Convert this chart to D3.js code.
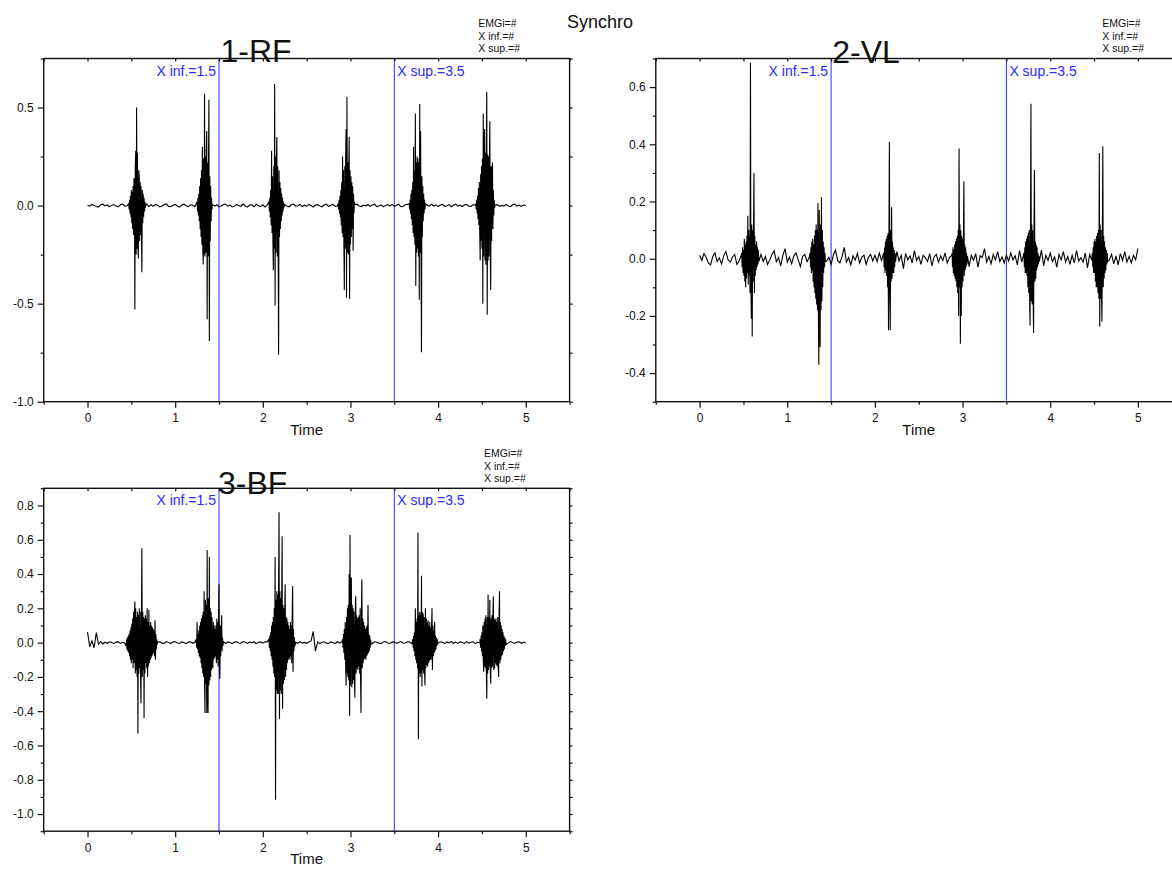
<!DOCTYPE html>
<html><head><meta charset="utf-8">
<script src="https://cdn.jsdelivr.net/npm/d3@7"></script>
<style>
html,body{margin:0;padding:0;background:#fff;}
svg{display:block;font-family:"Liberation Sans",Arial,Helvetica,sans-serif;}
</style></head><body>
<svg id="chart" width="1172" height="872"></svg>
<script>
// ---------------- DATA ----------------
const BASE_STEP = 0.025;   // s, quiet-signal sampling
const BURST_STEP = 0.005;  // s, burst sampling
const xMajorTicks = [0, 1, 2, 3, 4, 5];
const xMinorTicks = [-0.5, 0.5, 1.5, 2.5, 3.5, 4.5, 5.5];
const xInf = 1.5, xSup = 3.5;
const infoLines = ["EMGi=#", "X inf.=#", "X sup.=#"];

// 1-RF
const rfBase = [
 0.002,-0.003,0.006,0.001,-0.005,-0.008,0.004,0.007,-0.002,0.003,
 -0.006,0.001,0.005,-0.002,-0.007,0.004,0.008,-0.003,-0.001,0.005,
 0.000,-0.004,0.006,-0.003,0.004,-0.006,0.003,0.008,-0.005,0.004,
 -0.004,0.006,0.002,-0.007,-0.002,0.005,0.009,-0.004,-0.006,0.002,
 0.006,-0.002,-0.008,0.003,0.007,-0.001,-0.005,0.004,0.002,-0.006,
 0.003,0.007,-0.004,-0.002,0.005,-0.007,0.001,0.006,-0.003,0.004,
 -0.006,-0.002,0.005,0.008,-0.003,0.002,-0.007,-0.004,0.006,0.001,
 -0.004,0.009,-0.002,-0.008,0.004,0.003,-0.006,0.007,-0.001,-0.005,
 0.004,-0.007,0.002,0.006,-0.003,-0.005,0.007,0.001,-0.006,0.003,
 0.005,-0.002,-0.006,0.004,0.008,-0.003,-0.001,0.006,-0.005,0.002,
 -0.004,0.006,0.001,-0.007,0.003,0.005,-0.002,-0.006,0.004,0.007,
 -0.005,0.002,0.006,-0.004,-0.002,0.005,-0.007,0.003,0.008,-0.003,
 0.001,-0.006,0.004,0.007,-0.002,-0.005,0.003,-0.001,0.006,-0.004,
 0.003,0.007,-0.005,-0.002,0.004,-0.006,0.001,0.005,-0.003,0.006,
 -0.004,0.002,0.007,-0.005,-0.003,0.004,0.006,-0.002,-0.007,0.003,
 0.005,-0.004,0.001,0.006,-0.006,0.002,-0.003,0.007,-0.002,0.004,
 -0.005,0.003,0.006,-0.004,-0.001,0.005,-0.006,0.002,0.007,-0.003,
 0.002,-0.005,0.004,0.006,-0.003,-0.004,0.005,0.001,-0.006,0.003,
 0.006,-0.002,-0.005,0.004,0.002,-0.007,0.003,0.005,-0.004,0.001,
 -0.003,0.006,-0.002,-0.005,0.004,0.007,-0.003,0.002,-0.004,0.003,
 0.000];
const rfBurstStart = [0.47, 1.25, 2.07, 2.86, 3.67, 4.43];
const rfBurst1 = [0.01,-0.02,0.03,-0.04,0.05,-0.06,0.08,-0.09,0.07,-0.12,0.1,-0.15,0.14,0.12,-0.53,0.2,0.28,-0.25,0.5,-0.22,0.27,-0.2,-0.27,0.18,0.15,-0.18,0.12,-0.15,0.1,-0.12,-0.34,0.08,-0.09,0.06,-0.06,0.04,-0.03,0.02,-0.01,0.005];
const rfBurst2 = [0.02,-0.03,0.04,-0.05,0.06,-0.08,0.1,-0.12,0.14,-0.16,0.18,-0.2,0.3,-0.22,-0.3,0.24,-0.25,0.57,-0.26,0.25,-0.24,0.28,0.38,-0.58,0.22,-0.26,0.2,0.54,-0.69,0.15,-0.18,0.1,-0.08,0.04,-0.02];
const rfBurst3 = [0.02,-0.03,0.04,-0.06,0.08,-0.1,0.28,-0.14,0.15,-0.18,-0.33,0.2,-0.22,0.62,-0.51,0.25,-0.24,0.22,0.35,-0.26,0.2,-0.22,-0.76,0.18,-0.16,0.12,-0.12,0.09,-0.08,0.06,-0.05,0.04,-0.03,0.02,-0.01];
const rfBurst4 = [0.01,-0.02,0.03,-0.04,0.05,-0.06,0.08,-0.1,0.12,-0.14,0.25,-0.16,0.18,-0.2,-0.43,0.2,-0.22,0.24,0.39,-0.47,0.555,-0.24,0.22,-0.25,0.2,0.35,-0.475,0.18,-0.2,0.15,-0.16,0.12,-0.12,0.1,-0.23,0.06,-0.04,0.02];
const rfBurst5 = [0.01,-0.02,0.03,-0.04,0.06,-0.07,0.08,-0.1,0.12,-0.14,0.3,-0.16,0.18,-0.2,0.47,-0.41,0.22,-0.24,0.25,-0.22,0.24,-0.26,0.22,-0.48,0.518,-0.24,0.38,-0.2,-0.748,0.15,-0.16,0.1,-0.08,0.06,-0.04,0.03,-0.02,0.01];
const rfBurst6 = [0.01,-0.02,0.03,-0.04,0.05,-0.07,0.09,-0.1,0.12,-0.14,-0.28,0.16,-0.18,0.2,-0.22,0.24,-0.5,0.47,-0.26,0.25,0.39,-0.28,0.27,-0.3,0.28,0.58,-0.557,0.26,-0.28,0.25,-0.26,0.22,0.43,-0.25,-0.43,0.2,-0.18,0.16,0.22,-0.12,0.08,-0.05,0.03,-0.01];

// 2-VL
const vlBase = [
 0.012,-0.006,0.018,0.004,-0.015,-0.022,0.008,0.020,-0.010,0.003,
 -0.018,0.010,0.025,-0.004,-0.012,0.006,0.015,-0.020,-0.008,0.012,
 0.005,-0.015,0.010,0.018,-0.006,-0.012,0.008,-0.004,0.015,-0.010,
 0.008,-0.020,-0.005,0.015,0.028,-0.010,0.004,-0.025,0.012,0.035,
 -0.012,0.006,-0.018,0.010,0.020,-0.004,-0.028,0.008,0.015,-0.010,
 0.004,-0.012,0.018,0.006,-0.015,0.010,-0.006,0.022,-0.008,0.005,
 -0.020,0.012,0.030,-0.006,-0.015,0.008,0.040,-0.012,0.004,-0.022,
 0.010,-0.005,0.018,-0.015,0.006,0.012,-0.020,0.004,0.015,-0.008,
 0.012,-0.010,0.020,-0.006,0.008,-0.018,0.004,0.015,-0.012,0.010,
 0.025,-0.008,0.012,-0.035,0.018,-0.004,0.010,-0.015,0.028,-0.006,
 0.008,-0.020,0.012,0.004,-0.010,0.018,-0.025,0.006,0.015,-0.012,
 0.010,-0.006,0.020,-0.015,0.004,0.012,-0.018,0.008,-0.004,0.015,
 -0.010,0.022,0.006,-0.028,0.012,-0.006,0.018,-0.030,0.010,0.004,
 0.035,-0.012,0.008,-0.018,0.015,-0.004,0.025,-0.010,0.006,-0.015,
 0.012,-0.008,0.020,-0.004,0.010,-0.022,0.028,-0.012,0.006,-0.018,
 0.015,-0.006,0.010,-0.020,0.008,-0.012,0.030,-0.025,0.012,-0.006,
 0.020,-0.010,0.006,-0.030,0.015,-0.004,0.025,-0.012,0.008,-0.020,
 0.012,-0.015,0.028,-0.008,0.004,-0.012,0.020,-0.032,0.015,-0.006,
 0.018,-0.012,0.006,-0.020,0.012,-0.010,0.022,-0.004,0.015,-0.018,
 0.010,-0.022,0.018,-0.006,0.025,-0.012,0.008,-0.015,0.012,-0.004,
 0.035];
const vlBurstStart = [0.48, 1.26, 2.10, 2.88, 3.70, 4.48];
const vlBurst1 = [0.02,-0.03,0.04,-0.05,0.03,-0.06,0.07,-0.08,0.05,-0.1,0.06,-0.07,0.08,-0.05,0.15,-0.09,0.1,-0.06,0.08,-0.12,0.685,-0.1,-0.21,0.12,-0.272,0.1,-0.08,0.09,0.3,-0.12,0.08,-0.06,0.05,-0.04,0.06,-0.03,0.04,-0.02,0.03,-0.01];
const vlBurst2 = [0.02,-0.03,0.04,-0.05,0.06,-0.04,0.07,-0.08,0.05,-0.1,0.08,-0.12,0.1,-0.14,0.12,-0.16,0.1,-0.18,0.195,-0.2,-0.371,0.17,-0.22,-0.31,0.12,-0.18,0.215,-0.15,0.1,-0.1,0.06,-0.05,0.04,-0.03,0.02,-0.01];
const vlBurst3 = [0.02,-0.03,0.04,-0.05,0.06,-0.04,0.07,-0.06,0.08,-0.1,0.09,-0.25,0.1,0.408,-0.12,-0.25,0.1,-0.08,0.18,-0.07,0.06,-0.05,0.04,-0.05,0.03,-0.03,0.02,-0.01];
const vlBurst4 = [0.02,-0.03,0.04,-0.05,0.03,-0.06,0.05,-0.07,0.06,-0.08,0.07,-0.1,0.08,-0.12,0.1,-0.2,0.385,-0.1,0.12,-0.297,0.1,-0.2,0.08,-0.1,0.07,-0.08,0.06,0.27,-0.06,0.05,-0.04,0.04,-0.03,0.02,-0.02,0.01];
const vlBurst5 = [0.02,-0.03,0.04,-0.05,0.06,-0.05,0.07,-0.06,0.08,-0.1,0.09,-0.12,0.1,-0.14,-0.234,0.12,0.542,-0.15,0.12,-0.16,0.1,-0.12,-0.26,0.1,0.31,-0.08,0.06,-0.07,0.05,-0.04,0.04,-0.03,0.02,-0.02,0.01,-0.01];
const vlBurst6 = [0.02,-0.03,0.04,-0.05,0.06,-0.05,0.07,-0.08,0.06,-0.1,0.08,-0.1,0.09,-0.12,0.1,-0.14,0.37,-0.237,0.12,-0.14,0.1,-0.12,-0.22,0.1,0.393,-0.1,0.08,-0.07,0.06,-0.05,0.04,-0.04,0.03,-0.02,0.02,-0.01];

// 3-BF
const bfBase = [
 0.062,-0.025,0.010,-0.030,0.058,-0.010,0.006,-0.008,0.002,-0.004,
 0.005,0.001,-0.006,0.003,0.004,-0.005,0.002,-0.003,-0.030,0.004,
 0.003,-0.004,0.005,-0.003,0.004,-0.005,0.003,-0.004,0.005,-0.003,
 0.002,-0.006,0.004,0.005,-0.003,-0.005,0.006,0.001,-0.004,0.003,
 0.006,-0.002,-0.005,0.004,0.001,-0.006,0.003,0.005,-0.004,0.002,
 0.003,-0.005,0.004,-0.003,0.005,-0.004,0.006,-0.003,0.004,-0.005,
 0.004,-0.003,0.006,-0.005,0.004,0.001,-0.006,0.003,0.005,-0.002,
 -0.004,0.006,0.002,-0.005,0.003,-0.001,0.005,-0.006,0.002,0.004,
 -0.003,0.005,0.004,-0.004,0.003,-0.005,0.006,-0.004,0.005,-0.003,
 0.004,-0.005,0.003,-0.006,0.005,0.002,-0.004,0.006,-0.003,0.001,
 -0.004,0.003,0.010,0.065,-0.050,0.004,-0.006,0.002,0.005,-0.003,
 -0.005,0.004,0.001,-0.006,0.005,-0.002,0.003,0.006,-0.004,0.002,
 -0.004,0.005,-0.006,0.004,-0.003,0.005,-0.004,0.006,-0.005,0.003,
 -0.004,0.005,0.002,-0.003,-0.006,0.004,0.006,-0.002,-0.005,0.003,
 0.004,-0.005,0.001,0.006,-0.004,-0.002,0.005,0.003,-0.006,0.002,
 -0.005,0.003,-0.004,0.006,-0.005,0.004,-0.003,0.005,-0.004,0.006,
 -0.003,0.005,0.002,-0.006,0.004,-0.001,0.006,-0.004,0.003,-0.005,
 0.004,0.001,-0.005,0.006,-0.003,0.002,0.005,-0.006,0.003,-0.002,
 -0.005,0.004,-0.006,0.005,-0.003,0.004,-0.005,0.006,-0.004,0.003,
 -0.005,0.004,-0.003,0.006,0.001,-0.005,0.003,0.005,-0.004,0.002,
 0.000];
const bfBurstStart = [0.44, 1.24, 2.07, 2.91, 3.71, 4.48];
const bfBurst1 = [-0.02,0.02,-0.04,0.03,-0.05,0.04,-0.06,0.05,-0.08,0.07,-0.1,0.09,-0.12,0.11,-0.1,0.14,-0.15,0.18,-0.12,0.16,0.24,-0.18,0.2,-0.16,0.15,-0.2,0.18,-0.53,0.16,-0.18,0.2,-0.15,0.18,-0.2,-0.353,0.16,0.55,-0.2,0.18,-0.16,0.15,-0.44,0.14,-0.18,0.16,-0.12,0.14,-0.15,0.2,-0.2,0.12,-0.14,0.19,-0.12,0.1,-0.1,0.12,-0.09,0.1,-0.08,0.09,-0.07,0.08,-0.06,0.07,-0.08,0.13,-0.1,0.05,-0.04,0.02,-0.01];
const bfBurst2 = [0.02,-0.03,0.12,-0.04,0.05,-0.06,0.07,-0.08,0.1,-0.09,0.12,-0.12,0.14,-0.15,0.16,-0.18,0.18,-0.2,0.3,-0.22,-0.41,0.25,-0.24,0.22,-0.41,0.54,-0.3,-0.41,0.26,-0.25,0.5,-0.22,0.2,-0.2,0.18,-0.16,0.15,-0.12,-0.15,0.12,-0.1,0.1,-0.09,0.08,-0.08,0.1,-0.12,0.14,-0.1,0.12,-0.14,0.15,0.34,-0.12,-0.21,0.1,-0.08,0.06,0.16,-0.05,0.03,-0.02];
const bfBurst3 = [0.02,-0.03,0.04,-0.05,0.06,-0.08,0.1,-0.1,0.12,-0.14,0.15,-0.18,0.2,-0.2,0.5,-0.916,0.25,-0.28,0.3,-0.3,0.28,-0.3,0.32,0.76,-0.445,0.3,-0.28,0.26,-0.3,0.25,0.62,-0.386,0.22,-0.24,0.2,-0.22,0.18,0.34,-0.2,0.15,-0.16,0.14,-0.12,0.12,-0.1,0.1,-0.09,0.08,-0.1,0.12,-0.08,0.1,-0.12,0.15,0.33,-0.17,0.08,-0.05,0.03,-0.02];
const bfBurst4 = [0.02,-0.03,0.05,-0.06,0.08,-0.1,0.12,-0.14,-0.25,0.15,-0.18,0.2,-0.2,0.22,-0.22,0.4,-0.426,0.628,-0.25,0.24,0.38,-0.26,0.22,-0.24,0.2,-0.22,0.18,-0.2,-0.32,0.18,0.27,-0.18,0.16,-0.15,0.14,-0.16,0.15,-0.14,0.16,-0.18,0.2,-0.2,-0.41,0.18,0.37,-0.15,0.14,-0.12,0.12,-0.1,0.1,-0.09,0.08,-0.1,0.09,-0.08,0.1,-0.07,0.22,-0.06,0.05,-0.05,0.04,-0.03,0.02,-0.01];
const bfBurst5 = [0.02,-0.03,0.04,-0.05,0.06,-0.08,0.2,-0.1,0.12,-0.12,0.14,-0.15,0.642,-0.564,0.16,-0.18,0.18,-0.2,0.17,-0.18,0.39,-0.256,0.18,-0.16,0.17,-0.18,0.15,-0.16,-0.25,0.2,-0.15,0.14,-0.13,0.12,-0.14,0.13,-0.12,0.1,-0.11,0.12,-0.1,0.09,-0.1,0.08,0.2,-0.16,0.1,-0.08,0.07,-0.06,0.12,-0.05,0.04,-0.04,0.03,-0.02,0.02,-0.01];
const bfBurst6 = [0.02,-0.03,0.04,-0.05,0.06,-0.08,0.1,-0.1,-0.17,0.12,-0.14,0.14,-0.15,0.16,-0.16,-0.328,0.15,-0.18,0.28,-0.16,0.15,-0.14,0.25,-0.16,-0.24,0.14,-0.15,0.16,-0.14,0.15,0.27,-0.16,0.14,-0.15,0.13,-0.12,0.14,-0.13,0.12,-0.14,0.15,-0.12,-0.2,0.14,0.3,-0.12,0.12,-0.1,0.1,-0.08,0.08,-0.07,0.06,-0.05,0.04,-0.04,0.03,-0.02,0.02,-0.01];

// ---------------- ASSEMBLY ----------------
function buildSeries(base, starts, bursts) {
  const ranges = starts.map((s, i) => [s, s + (bursts[i].length - 1) * BURST_STEP]);
  const pts = [];
  base.forEach((v, i) => {
    const t = i * BASE_STEP;
    if (!ranges.some(r => t >= r[0] - 1e-9 && t <= r[1] + 1e-9)) pts.push([t, v]);
  });
  bursts.forEach((b, k) => b.forEach((v, j) => pts.push([starts[k] + j * BURST_STEP, v])));
  pts.sort((a, b) => a[0] - b[0]);
  return pts;
}
const rfSeries = buildSeries(rfBase, rfBurstStart, [rfBurst1, rfBurst2, rfBurst3, rfBurst4, rfBurst5, rfBurst6]);
const vlSeries = buildSeries(vlBase, vlBurstStart, [vlBurst1, vlBurst2, vlBurst3, vlBurst4, vlBurst5, vlBurst6]);
const bfSeries = buildSeries(bfBase, bfBurstStart, [bfBurst1, bfBurst2, bfBurst3, bfBurst4, bfBurst5, bfBurst6]);

const panels = [
  { title: "1-RF", series: rfSeries, left: 43.7, right: 569.6, top: 58.5, bottom: 401.7,
    yDomain: [-1.0, 0.75], yMajor: [-1.0, -0.5, 0.0, 0.5], yMinor: [-0.75, -0.25, 0.25, 0.75],
    titleX: 256, titleY: 61.5, infoX: 478.3, infoY: 26.7 },
  { title: "2-VL", series: vlSeries, left: 655.8, right: 1181.7, top: 58.5, bottom: 401.7,
    yDomain: [-0.5, 0.7], yMajor: [-0.4, -0.2, 0.0, 0.2, 0.4, 0.6], yMinor: [-0.5, -0.3, -0.1, 0.1, 0.3, 0.5, 0.7],
    titleX: 866, titleY: 62.5, infoX: 1102.3, infoY: 26.7 },
  { title: "3-BF", series: bfSeries, left: 43.7, right: 569.6, top: 488.3, bottom: 831.2,
    yDomain: [-1.1, 0.9], yMajor: [-1.0, -0.8, -0.6, -0.4, -0.2, 0.0, 0.2, 0.4, 0.6, 0.8], yMinor: [-1.1, -0.9, -0.7, -0.5, -0.3, -0.1, 0.1, 0.3, 0.5, 0.7, 0.9],
    titleX: 252.7, titleY: 494, infoX: 484, infoY: 456.7 }
];

// ---------------- DRAW ----------------
const svg = d3.select("#chart");
const BLUE = "#2a2aff";
const FONT = '"Liberation Sans", Arial, Helvetica, sans-serif';

svg.append("text").attr("x", 600).attr("y", 27.7).attr("text-anchor", "middle")
  .attr("font-size", 18).attr("fill", "#111").text("Synchro");

panels.forEach((p, idx) => {
  const x = d3.scaleLinear().domain([-0.5, 5.5]).range([p.left, p.right]);
  const y = d3.scaleLinear().domain(p.yDomain).range([p.bottom, p.top]);
  const g = svg.append("g");

  const clipId = "clip" + idx;
  svg.append("clipPath").attr("id", clipId).append("rect")
    .attr("x", p.left).attr("y", p.top).attr("width", p.right - p.left).attr("height", p.bottom - p.top);

  // marker lines
  [xInf, xSup].forEach(v => {
    g.append("line").attr("x1", x(v)).attr("x2", x(v)).attr("y1", p.top).attr("y2", p.bottom)
      .attr("stroke", BLUE).attr("stroke-width", 1);
  });

  // signal
  const line = d3.line().x(d => x(d[0])).y(d => y(d[1]));
  g.append("path").datum(p.series).attr("d", line).attr("fill", "none")
    .attr("stroke", "#000").attr("stroke-width", 1.1).attr("stroke-linejoin", "miter")
    .attr("clip-path", `url(#${clipId})`);

  // axes
  const styleAxis = sel => {
    sel.select(".domain").remove();
    sel.selectAll("line").attr("stroke", "#111").attr("stroke-width", 1.2);
    sel.selectAll("text").attr("fill", "#111").attr("font-size", 12).attr("font-family", FONT);
  };
  g.append("g").attr("transform", `translate(0,${p.bottom})`)
    .call(d3.axisBottom(x).tickValues(xMajorTicks).tickSize(6).tickPadding(6).tickFormat(d => String(d)))
    .call(styleAxis);
  g.append("g").attr("transform", `translate(0,${p.bottom})`)
    .call(d3.axisBottom(x).tickValues(xMinorTicks).tickSize(3).tickFormat(""))
    .call(styleAxis);
  g.append("g").attr("transform", `translate(0,${p.top})`)
    .call(d3.axisBottom(x).tickValues(xMajorTicks.concat(xMinorTicks)).tickSize(3).tickFormat(""))
    .call(styleAxis);
  g.append("g").attr("transform", `translate(${p.left},0)`)
    .call(d3.axisLeft(y).tickValues(p.yMajor).tickSize(6).tickPadding(4).tickFormat(d => d.toFixed(1)))
    .call(styleAxis);
  g.append("g").attr("transform", `translate(${p.left},0)`)
    .call(d3.axisLeft(y).tickValues(p.yMinor).tickSize(3).tickFormat(""))
    .call(styleAxis);
  g.append("g").attr("transform", `translate(${p.right},0)`)
    .call(d3.axisRight(y).tickValues(p.yMajor.concat(p.yMinor)).tickSize(3).tickFormat(""))
    .call(styleAxis);

  // frame
  g.append("rect").attr("x", p.left).attr("y", p.top).attr("width", p.right - p.left)
    .attr("height", p.bottom - p.top).attr("fill", "none").attr("stroke", "#111").attr("stroke-width", 1.4);

  // x label
  g.append("text").attr("x", (p.left + p.right) / 2).attr("y", p.bottom + 33)
    .attr("text-anchor", "middle").attr("font-size", 15).attr("fill", "#111").text("Time");

  // marker labels
  g.append("text").attr("x", x(xInf) - 3).attr("y", p.top + 17).attr("text-anchor", "end")
    .attr("font-size", 14).attr("fill", BLUE).text("X inf.=" + xInf);
  g.append("text").attr("x", x(xSup) + 3).attr("y", p.top + 17).attr("text-anchor", "start")
    .attr("font-size", 14).attr("fill", BLUE).text("X sup.=" + xSup);

  // title
  g.append("text").attr("x", p.titleX).attr("y", p.titleY).attr("text-anchor", "middle")
    .attr("font-size", 32).attr("fill", "#111").text(p.title);

  // info block
  infoLines.forEach((s, i) => {
    g.append("text").attr("x", p.infoX).attr("y", p.infoY + i * 12.8)
      .attr("font-size", 10.5).attr("fill", "#111").text(s);
  });
});
</script>
</body></html>
